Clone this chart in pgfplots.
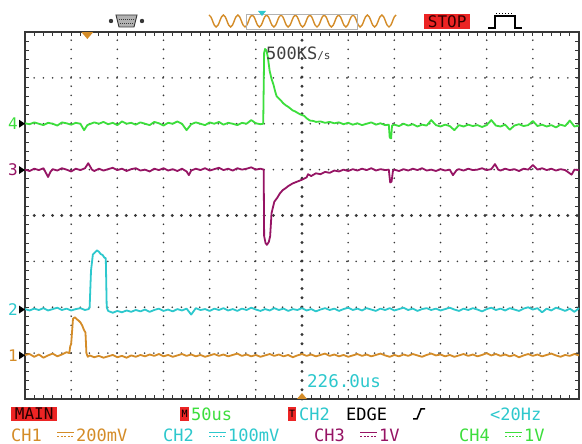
\documentclass[border=0pt]{standalone}
\usepackage{fontspec}
\setmainfont{DejaVu Sans Mono}
\usepackage{pgfplots}
\pgfplotsset{compat=1.18}
\usetikzlibrary{calc}
\definecolor{chA}{RGB}{212,140,40}
\definecolor{chB}{RGB}{45,200,205}
\definecolor{chC}{RGB}{150,20,100}
\definecolor{chD}{RGB}{60,222,60}
\definecolor{scred}{RGB}{236,36,36}
\definecolor{gridc}{RGB}{55,55,55}
\newcommand{\fsz}[1]{\fontsize{#1}{#1}\selectfont}
\begin{document}
\begin{tikzpicture}[x=1pt,y=1pt]
\path[use as bounding box, fill=white] (0,0) rectangle (582,444);
\begin{axis}[at={(25pt,45pt)}, anchor=south west, scale only axis,
  width=554pt, height=367pt,
  xmin=-6, xmax=6, ymin=-4, ymax=4,
  xtick={-6,...,6}, ytick={-4,...,4},
  xticklabels={}, yticklabels={},
  minor x tick num=4, minor y tick num=4,
  tick align=inside, major tick length=4pt, minor tick length=4pt,
  tick style={gridc, line width=1pt},
  grid=major,
  major grid style={gridc, line width=1.8pt, line cap=round, dash pattern=on 0pt off 9.2pt},
  extra x ticks={0}, extra y ticks={0},
  extra x tick labels={}, extra y tick labels={},
  extra tick style={grid=major, major grid style={gridc, line width=3.2pt, line cap=round, dash pattern=on 0pt off 9.2pt}},
  axis line style={gridc, line width=1.6pt},
  clip=false,
  every axis plot/.append style={no markers, line width=1.8pt, line join=round},
]
% CH4 green
\addplot[chD] coordinates {
(-6.0,2.01)(-5.9,1.99)(-5.8,2.03)(-5.7,2.00)(-5.6,1.97)(-5.5,2.02)(-5.4,2.00)(-5.3,1.96)(-5.2,2.03)(-5.1,2.01)
(-5.0,1.98)(-4.9,2.02)(-4.8,2.00)(-4.72,1.86)(-4.65,1.97)(-4.6,1.99)(-4.5,2.03)(-4.4,2.00)(-4.3,2.04)(-4.2,1.99)(-4.1,2.02)
(-4.0,1.97)(-3.9,2.05)(-3.8,2.00)(-3.7,2.02)(-3.6,1.98)(-3.5,2.03)(-3.4,2.00)(-3.3,1.97)(-3.2,2.04)(-3.1,2.01)
(-3.0,1.96)(-2.9,2.02)(-2.8,2.00)(-2.7,2.05)(-2.6,2.00)(-2.5,1.86)(-2.4,1.99)(-2.3,2.03)(-2.2,2.00)(-2.1,1.97)
(-2.0,2.03)(-1.9,2.00)(-1.8,2.04)(-1.7,1.98)(-1.6,2.02)(-1.5,2.00)(-1.4,1.97)(-1.3,2.02)(-1.2,2.00)(-1.1,2.08)
(-1.0,2.01)(-0.9,1.99)(-0.84,2.00)(-0.82,3.55)(-0.80,3.63)(-0.77,3.60)(-0.74,3.45)(-0.70,3.15)(-0.66,2.98)
(-0.62,2.86)(-0.58,2.70)(-0.55,2.60)(-0.50,2.55)(-0.45,2.50)(-0.41,2.45)(-0.35,2.40)(-0.3,2.37)(-0.25,2.33)
(-0.2,2.29)(-0.15,2.27)(-0.1,2.24)(-0.05,2.21)(0.0,2.19)(0.05,2.17)(0.1,2.12)(0.17,2.07)(0.25,2.06)(0.3,2.04)
(0.4,2.05)(0.5,2.02)(0.6,2.04)(0.7,2.01)(0.8,2.03)(0.9,1.99)(1.0,2.02)(1.1,1.98)(1.2,2.01)(1.3,1.97)
(1.4,2.00)(1.5,2.03)(1.6,1.98)(1.7,2.01)(1.8,1.97)(1.88,1.98)(1.90,1.70)(1.93,1.68)(1.95,1.96)(2.0,1.98)
(2.1,1.95)(2.2,2.00)(2.3,1.96)(2.4,1.99)(2.5,1.94)(2.6,1.98)(2.7,1.96)(2.8,2.08)(2.9,1.97)(3.0,1.94)(3.1,1.98)
(3.2,1.95)(3.3,1.86)(3.4,1.97)(3.5,1.94)(3.6,1.98)(3.7,1.95)(3.8,1.97)(3.9,1.93)(4.0,1.97)(4.1,2.08)(4.2,1.96)
(4.3,1.94)(4.4,1.98)(4.5,1.87)(4.6,1.96)(4.7,1.99)(4.8,1.95)(4.9,1.97)(5.0,2.06)(5.1,1.95)(5.2,1.98)(5.3,1.94)
(5.4,1.97)(5.5,1.92)(5.6,1.98)(5.7,1.95)(5.8,2.07)(5.9,1.94)(6.0,1.96)};
% CH3 purple
\addplot[chC] coordinates {
(-6.0,1.00)(-5.9,0.97)(-5.8,1.02)(-5.7,0.99)(-5.6,1.03)(-5.5,0.84)(-5.45,0.95)(-5.4,1.01)(-5.3,0.98)(-5.2,1.03)
(-5.1,1.00)(-5.0,0.96)(-4.9,1.02)(-4.8,0.99)(-4.7,1.03)(-4.63,1.14)(-4.55,1.00)(-4.5,0.97)(-4.4,1.02)(-4.3,0.98)
(-4.2,1.01)(-4.1,1.04)(-4.0,0.99)(-3.9,1.02)(-3.8,0.97)(-3.7,1.01)(-3.6,1.03)(-3.5,0.98)(-3.4,1.00)(-3.3,0.96)
(-3.2,1.02)(-3.1,0.99)(-3.0,1.03)(-2.9,0.98)(-2.8,1.01)(-2.7,0.97)(-2.6,1.02)(-2.5,0.96)(-2.45,0.88)(-2.4,0.98)
(-2.3,1.02)(-2.2,0.99)(-2.1,1.03)(-2.0,0.98)(-1.9,1.01)(-1.8,1.04)(-1.7,0.99)(-1.6,1.02)(-1.5,0.98)(-1.4,1.03)
(-1.3,1.00)(-1.2,1.02)(-1.1,1.05)(-1.0,1.00)(-0.9,1.02)(-0.83,1.00)(-0.82,-0.45)(-0.79,-0.60)(-0.76,-0.64)
(-0.72,-0.58)(-0.69,-0.45)(-0.66,0.05)(-0.6,0.30)(-0.54,0.38)(-0.48,0.48)(-0.42,0.55)(-0.35,0.60)(-0.3,0.64)
(-0.2,0.70)(-0.1,0.74)(0.0,0.78)(0.1,0.83)(0.13,0.90)(0.2,0.86)(0.3,0.92)(0.4,0.90)(0.5,0.95)(0.6,0.93)(0.7,0.98)
(0.8,0.96)(0.9,1.00)(1.0,0.97)(1.1,1.01)(1.2,0.98)(1.3,1.02)(1.4,0.99)(1.5,1.03)(1.6,0.98)(1.7,1.01)(1.8,0.99)
(1.88,1.00)(1.91,0.72)(1.94,0.74)(1.97,0.97)(2.0,1.00)(2.1,0.97)(2.2,1.01)(2.3,0.98)(2.4,1.02)(2.5,0.99)(2.6,1.03)
(2.7,0.98)(2.8,1.00)(2.9,0.97)(3.0,1.01)(3.1,0.98)(3.2,1.00)(3.27,0.88)(3.35,0.99)(3.4,1.01)(3.5,0.98)(3.6,1.02)
(3.7,0.99)(3.8,1.00)(3.9,1.03)(4.0,0.99)(4.1,1.01)(4.18,1.12)(4.25,1.00)(4.3,0.98)(4.4,1.02)(4.5,0.99)(4.6,1.01)
(4.7,0.97)(4.8,1.02)(4.9,1.00)(5.0,1.10)(5.1,1.00)(5.2,1.03)(5.3,0.99)(5.4,1.02)(5.5,0.98)(5.6,1.01)(5.7,0.99)
(5.84,0.89)(5.9,1.00)(6.0,0.99)};
% CH2 cyan
\addplot[chB] coordinates {
(-6.0,-2.04)(-5.9,-2.07)(-5.8,-2.03)(-5.7,-2.06)(-5.6,-2.02)(-5.5,-2.07)(-5.4,-2.04)(-5.3,-2.01)(-5.2,-2.06)
(-5.1,-2.03)(-5.0,-2.07)(-4.9,-2.04)(-4.8,-2.02)(-4.7,-2.06)(-4.62,-2.04)(-4.60,-2.00)(-4.57,-1.20)(-4.53,-0.85)
(-4.48,-0.80)(-4.44,-0.76)(-4.40,-0.79)(-4.36,-0.84)(-4.32,-0.86)(-4.28,-0.92)(-4.25,-0.93)(-4.23,-2.00)
(-4.2,-2.08)(-4.1,-2.12)(-4.0,-2.08)(-3.9,-2.11)(-3.8,-2.07)(-3.7,-2.10)(-3.6,-2.06)(-3.5,-2.09)(-3.4,-2.05)
(-3.3,-2.10)(-3.2,-2.06)(-3.1,-2.03)(-3.0,-2.08)(-2.9,-2.05)(-2.8,-2.09)(-2.7,-2.04)(-2.6,-2.07)(-2.5,-2.03)
(-2.4,-2.16)(-2.3,-2.02)(-2.2,-2.06)(-2.1,-2.04)(-2.0,-2.08)(-1.9,-2.03)(-1.8,-2.06)(-1.7,-2.02)(-1.6,-2.07)
(-1.5,-2.04)(-1.4,-2.08)(-1.3,-2.03)(-1.2,-2.06)(-1.1,-2.01)(-1.0,-2.05)(-0.9,-2.08)(-0.8,-2.04)(-0.7,-2.07)
(-0.6,-2.02)(-0.5,-2.06)(-0.4,-2.03)(-0.3,-2.08)(-0.2,-2.04)(-0.1,-2.06)(0.0,-2.02)(0.1,-2.07)(0.2,-2.04)
(0.3,-2.09)(0.4,-2.05)(0.5,-2.02)(0.6,-2.06)(0.7,-2.03)(0.8,-2.08)(0.9,-2.04)(1.0,-2.01)(1.1,-2.06)(1.2,-2.03)
(1.3,-2.07)(1.4,-2.02)(1.5,-2.05)(1.6,-2.08)(1.7,-2.03)(1.8,-2.06)(1.9,-2.02)(2.0,-2.07)(2.1,-2.04)(2.2,-2.01)
(2.3,-2.06)(2.4,-2.03)(2.5,-2.08)(2.6,-2.04)(2.7,-2.02)(2.8,-2.06)(2.9,-2.03)(3.0,-2.07)(3.1,-2.04)(3.2,-2.01)
(3.3,-2.05)(3.4,-2.08)(3.5,-2.03)(3.6,-2.06)(3.7,-2.02)(3.8,-2.05)(3.9,-2.09)(4.0,-2.04)(4.1,-2.01)(4.2,-2.06)
(4.3,-2.03)(4.4,-2.07)(4.5,-2.02)(4.6,-2.05)(4.7,-2.08)(4.8,-2.03)(4.9,-2.00)(5.0,-2.05)(5.1,-2.02)(5.2,-2.11)
(5.3,-2.03)(5.4,-2.07)(5.5,-2.01)(5.6,-2.04)(5.7,-2.08)(5.8,-2.03)(5.9,-2.10)(6.0,-2.02)};
% CH1 orange
\addplot[chA] coordinates {
(-6.0,-3.04)(-5.9,-3.02)(-5.8,-3.08)(-5.7,-3.03)(-5.6,-3.10)(-5.5,-3.05)(-5.4,-3.01)(-5.3,-3.07)(-5.2,-3.03)
(-5.1,-2.98)(-5.04,-3.00)(-5.02,-2.85)(-5.00,-2.80)(-4.96,-2.25)(-4.92,-2.22)(-4.88,-2.26)(-4.84,-2.29)
(-4.80,-2.33)(-4.76,-2.40)(-4.72,-2.50)(-4.69,-2.55)(-4.67,-3.00)(-4.64,-3.08)(-4.6,-3.05)(-4.5,-3.09)
(-4.4,-3.06)(-4.3,-3.10)(-4.2,-3.07)(-4.1,-3.04)(-4.0,-3.09)(-3.9,-3.06)(-3.8,-3.10)(-3.7,-3.05)(-3.6,-3.08)
(-3.5,-3.04)(-3.4,-3.07)(-3.3,-3.03)(-3.2,-3.06)(-3.1,-3.02)(-3.0,-3.07)(-2.9,-3.04)(-2.8,-3.08)(-2.7,-3.05)
(-2.6,-3.02)(-2.5,-3.06)(-2.4,-3.03)(-2.3,-3.07)(-2.2,-3.04)(-2.1,-3.08)(-2.0,-3.05)(-1.9,-3.02)(-1.8,-3.06)
(-1.7,-3.03)(-1.6,-3.07)(-1.5,-3.04)(-1.4,-3.01)(-1.3,-3.06)(-1.2,-3.03)(-1.1,-3.07)(-1.0,-3.04)(-0.9,-3.08)
(-0.8,-3.05)(-0.7,-3.02)(-0.6,-3.06)(-0.5,-3.03)(-0.4,-3.07)(-0.3,-3.04)(-0.2,-3.09)(-0.1,-3.05)(0.0,-3.02)
(0.1,-3.06)(0.2,-3.03)(0.3,-3.07)(0.4,-3.04)(0.5,-3.01)(0.6,-3.06)(0.7,-3.03)(0.8,-3.07)(0.9,-3.04)(1.0,-3.08)
(1.1,-3.05)(1.2,-3.02)(1.3,-3.06)(1.4,-3.03)(1.5,-3.07)(1.6,-3.04)(1.7,-3.01)(1.8,-3.05)(1.9,-3.08)(2.0,-3.04)
(2.1,-3.07)(2.2,-3.03)(2.3,-3.06)(2.4,-3.02)(2.5,-3.05)(2.6,-3.08)(2.7,-3.04)(2.8,-3.01)(2.9,-3.05)(3.0,-3.03)
(3.1,-3.07)(3.2,-3.04)(3.3,-3.08)(3.4,-3.05)(3.5,-3.02)(3.6,-3.06)(3.7,-3.03)(3.8,-3.07)(3.9,-3.04)(4.0,-3.00)
(4.1,-3.05)(4.2,-3.02)(4.3,-3.06)(4.4,-3.03)(4.5,-3.07)(4.6,-3.04)(4.7,-3.09)(4.8,-3.05)(4.9,-3.02)(5.0,-3.06)
(5.1,-3.03)(5.2,-3.07)(5.3,-3.04)(5.4,-3.01)(5.5,-3.05)(5.6,-3.08)(5.7,-3.04)(5.8,-3.06)(5.9,-3.02)(6.0,-3.05)};
\coordinate (c4) at (axis cs:-6,2.0);
\coordinate (c3) at (axis cs:-6,0.99);
\coordinate (c2) at (axis cs:-6,-2.05);
\coordinate (c1) at (axis cs:-6,-3.05);
\coordinate (tt) at (axis cs:-4.65,4);
\coordinate (tb) at (axis cs:0,-4);
\end{axis}
% channel markers
\foreach \c/\n/\col in {c4/4/chD, c3/3/chC, c2/2/chB, c1/1/chA}{
  \fill[black] ($(\c)+(-6,4)$) -- ($(\c)+(0,0)$) -- ($(\c)+(-6,-4)$) -- cycle;
  \node[anchor=east, inner sep=0, text=\col, font=\fsz{16}] at ($(\c)+(-7,0)$) {\n};
}
% trigger markers
\fill[chA] ($(tt)+(-6,0)$) -- ($(tt)+(6,0)$) -- ($(tt)+(0,-7)$) -- cycle;
\fill[chA] ($(tb)+(-5,0)$) -- ($(tb)+(5,0)$) -- ($(tb)+(0,6)$) -- cycle;
% header
\fill[gridc] (111,423) circle (2.2);
\fill[gridc] (142,423) circle (2.2);
\fill[gray!60] (116,429) -- (137,429) -- (134,417) -- (119,417) -- cycle;
\draw[gridc, line width=0.9pt] (116,429) -- (137,429) -- (134,417) -- (119,417) -- cycle;
\draw[gridc, line width=0.6pt, dash pattern=on 1pt off 1pt] (119,425) -- (134,425) (120,421) -- (133,421);
\draw[chA, line width=1.4pt] (209,429) \foreach \i in {1,...,13}{ cos ++(3.6,-6) sin ++(3.6,-6) cos ++(3.6,6) sin ++(3.6,6) };
\draw[gray!60, line width=0.9pt] (246,415) rectangle (357,430);
\fill[chB] (258,433) -- (266,433) -- (262,428) -- cycle;
\node[fill=scred, inner sep=0, minimum width=46, minimum height=15, anchor=south west, text=black!80!red, font=\fsz{16}] at (424,415) {STOP};
\draw[black, line width=1.6pt] (488,416) -- (495,416) -- (495,428) -- (515,428) -- (515,416) -- (522,416);
\draw[black, line width=1pt, dash pattern=on 1pt off 2pt] (496,430) -- (514,430);
% annotations in the plot
\node[anchor=west, inner sep=0, text=black!75, font=\fsz{17}] at (266,390) {500KS{\fsz{11}/s}};
\node[anchor=west, inner sep=0, text=chB, font=\fsz{17.5}] at (307,63) {226.0us};
% status row 1
\node[fill=scred, inner sep=0, minimum width=46, minimum height=14, anchor=west, text=black!85!red, font=\fsz{16}] at (11,30) {MAIN};
\node[fill=scred, inner sep=0, minimum width=9, minimum height=14, anchor=west, text=black, font=\fsz{10}] at (180,30) {M};
\node[anchor=west, inner sep=0, text=chD, font=\fsz{17}] at (191,30) {50us};
\node[fill=scred, inner sep=0, minimum width=8, minimum height=14, anchor=west, text=black, font=\fsz{10}] at (288,30) {T};
\node[anchor=west, inner sep=0, text=chB, font=\fsz{17}] at (299,30) {CH2};
\node[anchor=west, inner sep=0, text=black, font=\fsz{17}] at (346,30) {EDGE};
\draw[black, line width=1.5pt] (413,25) -- (417,25) -- (421,35) -- (425,35);
\node[anchor=west, inner sep=0, text=chB, font=\fsz{17}] at (490,30) {<20Hz};
% status row 2
\foreach \x/\lab/\val/\col in {11/CH1/200mV/chA, 163/CH2/100mV/chB, 314/CH3/1V/chC, 459/CH4/1V/chD}{
  \node[anchor=west, inner sep=0, text=\col, font=\fsz{17}] at (\x,9) {\lab};
  \draw[\col, line width=1.3pt] (\x+46,11.5) -- (\x+63,11.5);
  \draw[\col, line width=1.3pt, dash pattern=on 2pt off 1.6pt] (\x+46,7.5) -- (\x+63,7.5);
  \node[anchor=west, inner sep=0, text=\col, font=\fsz{17}] at (\x+65,9) {\val};
}
\end{tikzpicture}
\end{document}
